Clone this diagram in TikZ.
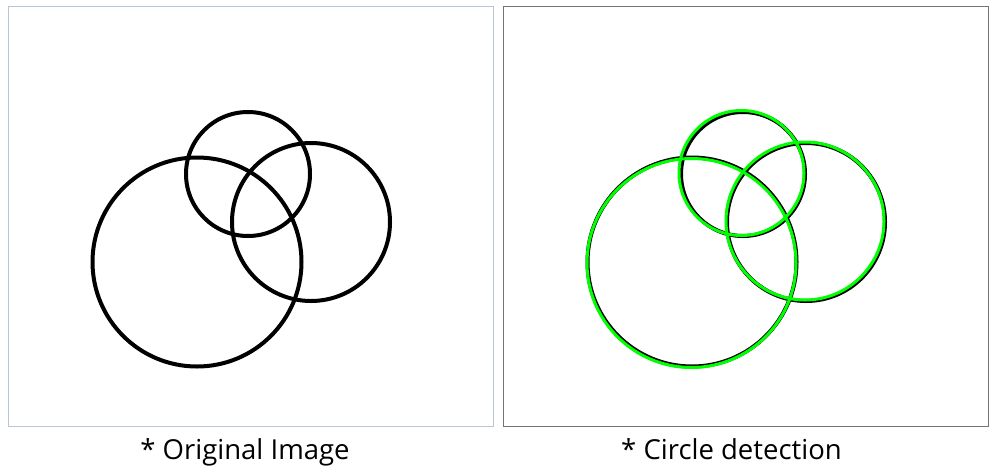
\documentclass[tikz,border=0pt]{standalone}
\usepackage{fontspec}
\setmainfont{Open Sans}
\begin{document}
\begin{tikzpicture}[x=1pt,y=-1pt,
  ring/.style={circle,draw=black,line width=4pt,inner sep=0pt,minimum size=#1},
  gring/.style={circle,draw=detgreen,line width=3pt,inner sep=0pt,minimum size=#1},
  panel/.style={draw=#1,line width=1pt,fill=white},
  caption/.style={anchor=base,font=\fontsize{27.5}{32}\selectfont,text=black,inner sep=0pt}]
\definecolor{detgreen}{RGB}{0,255,0}
\definecolor{leftframe}{RGB}{185,197,217}
\definecolor{rightframe}{RGB}{112,116,124}
\useasboundingbox (0,0) rectangle (995,472);
\fill[white] (0,0) rectangle (995,472);
% panels
\draw[panel=leftframe] (8.5,6.5) rectangle (493.5,426.5);
\draw[panel=rightframe] (503.5,6.5) rectangle (988.5,426.5);
% left: original image
\node[ring=124pt] (a1) at (248,174) {};
\node[ring=158pt] (a2) at (311,222) {};
\node[ring=209pt] (a3) at (197,262) {};
% right: detection
\node[ring=124pt] (b1) at (743,174) {};
\node[ring=158pt] (b2) at (806,222) {};
\node[ring=209pt] (b3) at (692,262) {};
\node[gring=125pt] (g1) at (741.5,173) {};
\node[gring=158pt] (g2) at (805,221) {};
\node[gring=209pt] (g3) at (691.5,263) {};
% captions
\node[caption] (t1) at (245,459) {* Original Image};
\node[caption] (t2) at (731.5,459) {* Circle detection};
\end{tikzpicture}
\end{document}
